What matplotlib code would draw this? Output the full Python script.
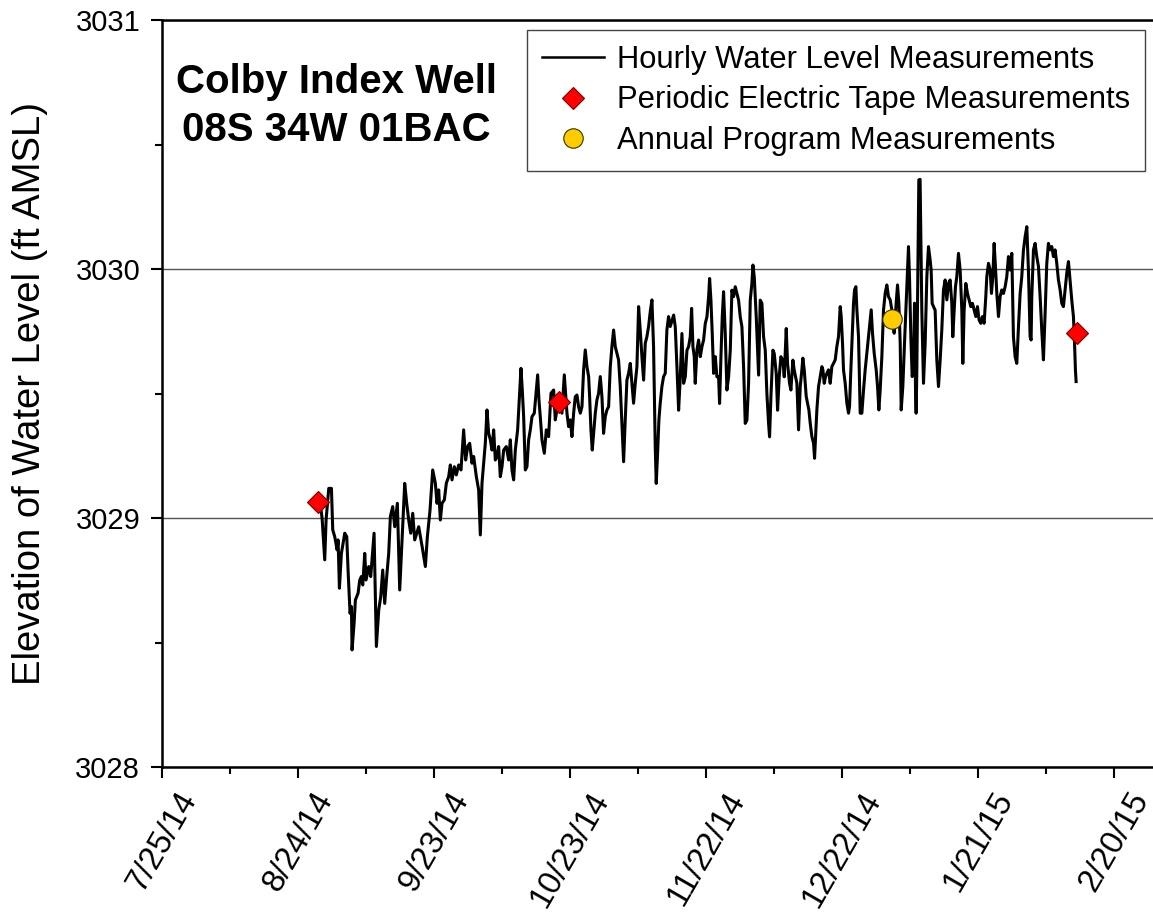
import matplotlib
matplotlib.use("Agg")
import matplotlib.pyplot as plt
import matplotlib.dates as mdates
from matplotlib.lines import Line2D
import numpy as np
import pandas as pd

plt.rcParams['font.family'] = ['Liberation Sans', 'DejaVu Sans']

# ---------------- data ----------------
base_date = "2014-07-25"
# hourly record, sampled: days after base_date and level (ft AMSL)
hourly_days = [
    34.86, 35.23, 35.81, 36.11, 36.70, 37.29, 37.58, 38.02, 38.54, 38.76, 39.05, 39.49, 40.23, 40.67,
    40.96, 41.40, 41.70, 41.84, 42.29, 42.58, 43.17, 43.54, 43.90, 44.20, 44.64, 44.93, 45.52, 45.96,
    46.70, 47.21, 47.73, 48.17, 48.61, 49.05, 49.49, 49.93, 50.30, 50.81, 51.26, 51.84, 52.36, 52.87,
    53.46, 53.90, 54.34, 54.79, 55.23, 55.67, 56.55, 57.43, 58.02, 58.46, 59.05, 59.64,
    60.22, 60.59, 60.96, 61.33, 61.69, 62.21, 62.65, 63.16, 63.53, 63.90, 64.41, 64.85, 65.37, 65.88,
    66.47, 66.91, 67.36, 67.80, 68.31, 68.68, 69.27, 69.78, 70.15, 70.52, 70.88, 71.25, 71.62, 71.99,
    72.36, 72.72, 73.09, 73.46, 73.83, 74.19, 74.56, 74.93, 75.30, 75.88, 76.40, 76.77, 77.13, 77.50,
    77.87, 78.38, 78.83, 79.12, 79.41, 79.71, 80.08, 80.44, 80.81, 81.18, 81.55, 82.06, 82.50, 82.80,
    83.09, 83.38, 83.75, 84.27, 84.71, 85.22, 85.74, 86.33,
    86.69, 87.06, 87.65, 88.16, 88.68, 89.27, 89.63, 90.00, 90.37, 90.74, 91.10, 91.47, 91.84, 92.21,
    92.58, 92.94, 93.31, 93.68, 94.05, 94.27, 94.56, 94.85, 95.15, 95.52, 95.88, 96.25, 96.62, 96.99,
    97.35, 97.72, 98.09, 98.46, 98.83, 99.19, 99.56, 99.93, 100.30, 100.66, 101.03, 101.40, 101.77,
    102.13, 102.50, 102.87, 103.24, 103.60, 103.97, 104.34, 104.71, 105.08, 105.44, 105.81, 106.18,
    106.55, 106.91, 107.28, 107.65, 108.02, 108.38, 108.75, 108.97, 109.27, 109.56, 109.85, 110.22,
    110.59, 110.96, 111.32, 111.69, 112.06,
    112.81, 113.17, 113.54, 113.91, 114.28, 114.64, 115.01, 115.38, 115.75, 116.11, 116.48, 116.78,
    117.07, 117.36, 117.58, 117.95, 118.32, 118.69, 119.06, 119.42, 119.79, 120.16, 120.53, 120.75,
    121.04, 121.33, 121.63, 122.00, 122.36, 122.73, 122.95, 123.25, 123.54, 123.83, 124.20, 124.57,
    124.94, 125.31, 125.67, 126.04, 126.41, 126.78, 127.14, 127.51, 127.88, 128.25, 128.61, 128.98,
    129.35, 129.72, 130.08, 130.31, 130.60, 131.04, 131.56, 131.92, 132.29, 132.66, 133.03, 133.39,
    133.76, 133.98, 134.28, 134.72, 135.01, 135.45, 135.75, 136.11, 136.48, 136.92, 137.22, 137.66,
    137.95, 138.39, 138.69, 139.13, 139.42,
    140.01, 140.38, 140.75, 141.11, 141.33, 141.63, 142.07, 142.36, 142.66, 142.95, 143.32, 143.69,
    143.91, 144.13, 144.42, 144.79, 145.16, 145.53, 145.75, 146.04, 146.33, 146.63, 146.99, 147.36,
    147.73, 148.10, 148.47, 148.83, 149.20, 149.57, 149.79, 150.08, 150.30, 150.67, 151.04, 151.41,
    151.63, 151.92, 152.22, 152.51, 152.73, 153.03, 153.25, 153.61, 153.98, 154.35, 154.72, 155.08,
    155.45, 155.82, 156.19, 156.41, 156.70, 157.07, 157.51, 157.81, 158.10, 158.39, 158.76, 159.13,
    159.50, 159.86, 160.23, 160.60, 160.97, 161.19, 161.48, 161.70, 161.92, 162.22, 162.51, 162.81,
    163.03, 163.39, 163.76, 164.13, 164.42, 164.64, 164.86, 165.16, 165.45, 165.75, 165.97, 166.19,
    166.33, 166.48, 166.70, 166.92, 167.20,
    167.58, 167.95, 168.32, 168.69, 169.05, 169.42, 169.64, 169.86, 170.16, 170.52, 170.89, 171.26,
    171.63, 171.99, 172.36, 172.73, 173.10, 173.47, 173.83, 174.20, 174.42, 174.72, 175.01, 175.30,
    175.67, 176.04, 176.41, 176.63, 176.92, 177.29, 177.66, 178.02, 178.39, 178.76, 179.13, 179.50,
    179.86, 180.23, 180.60, 180.97, 181.33, 181.70, 181.92, 182.29, 182.66, 182.95, 183.25, 183.54,
    183.83, 184.13, 184.50, 184.86, 185.23, 185.60, 185.97, 186.33, 186.70, 187.07, 187.44, 187.80,
    188.17, 188.54, 188.91, 189.28, 189.64, 190.01, 190.38, 190.75, 191.11, 191.48, 191.70,
    191.85, 192.22, 192.58, 192.95, 193.32, 193.69, 194.05, 194.42, 194.79, 195.16, 195.52, 195.89,
    196.26, 196.63, 196.99, 197.36, 197.73, 198.10, 198.47, 198.83, 199.20, 199.57, 199.94, 200.30,
    200.67, 201.04, 201.26, 201.48, 201.63,
]
hourly_level = [
    3029.052, 3028.999, 3028.832, 3028.992, 3029.119, 3029.119, 3028.952, 3028.925, 3028.872, 3028.912,
    3028.718, 3028.858, 3028.939, 3028.925, 3028.791, 3028.617, 3028.644, 3028.470, 3028.577, 3028.671,
    3028.698, 3028.751, 3028.765, 3028.731, 3028.858, 3028.751, 3028.805, 3028.765, 3028.939, 3028.484,
    3028.631, 3028.684, 3028.791, 3028.657, 3028.765, 3028.858, 3029.006, 3029.046, 3028.965, 3029.059,
    3028.711, 3028.912, 3029.139, 3029.059, 3028.992, 3028.939, 3029.019, 3028.912, 3028.965, 3028.872,
    3028.805, 3028.925, 3029.032, 3029.193,
    3029.140, 3029.059, 3029.113, 3028.992, 3029.059, 3029.073, 3029.140, 3029.166, 3029.213, 3029.153,
    3029.206, 3029.173, 3029.213, 3029.193, 3029.354, 3029.233, 3029.287, 3029.300, 3029.220, 3029.247,
    3029.166, 3029.113, 3028.932, 3029.140, 3029.220, 3029.300, 3029.434, 3029.340, 3029.314, 3029.273,
    3029.354, 3029.233, 3029.247, 3029.287, 3029.166, 3029.206, 3029.273, 3029.287, 3029.233, 3029.314,
    3029.193, 3029.153, 3029.273, 3029.354, 3029.501, 3029.601, 3029.514, 3029.407, 3029.193, 3029.206,
    3029.314, 3029.354, 3029.407, 3029.421, 3029.514, 3029.575, 3029.474, 3029.407, 3029.314, 3029.260,
    3029.354, 3029.327, 3029.501, 3029.514,
    3029.394, 3029.434, 3029.474, 3029.421, 3029.575, 3029.421, 3029.367, 3029.394, 3029.327, 3029.421,
    3029.487, 3029.494, 3029.447, 3029.421, 3029.447, 3029.595, 3029.675, 3029.608, 3029.568, 3029.487,
    3029.354, 3029.273, 3029.340, 3029.421, 3029.474, 3029.501, 3029.568, 3029.487, 3029.340, 3029.407,
    3029.434, 3029.447, 3029.608, 3029.688, 3029.755, 3029.688, 3029.662, 3029.635, 3029.528, 3029.380,
    3029.226, 3029.394, 3029.554, 3029.581, 3029.621, 3029.541, 3029.461, 3029.541, 3029.608, 3029.849,
    3029.755, 3029.648, 3029.554, 3029.702, 3029.728, 3029.769, 3029.829, 3029.876, 3029.688, 3029.287,
    3029.139, 3029.260, 3029.394, 3029.461, 3029.528, 3029.568, 3029.581, 3029.755, 3029.809, 3029.769,
    3029.815, 3029.768, 3029.607, 3029.433, 3029.567, 3029.741, 3029.541, 3029.567, 3029.674, 3029.688,
    3029.728, 3029.842, 3029.688, 3029.648, 3029.541, 3029.674, 3029.715, 3029.648, 3029.688, 3029.715,
    3029.781, 3029.808, 3029.889, 3029.962, 3029.875, 3029.741, 3029.581, 3029.648, 3029.567, 3029.567,
    3029.460, 3029.648, 3029.808, 3029.909, 3029.741, 3029.514, 3029.567, 3029.674, 3029.915, 3029.889,
    3029.929, 3029.902, 3029.875, 3029.808, 3029.768, 3029.607, 3029.380, 3029.393, 3029.541, 3029.875,
    3029.942, 3030.016, 3029.969, 3029.808, 3029.574, 3029.875, 3029.862, 3029.728, 3029.674, 3029.500,
    3029.380, 3029.326, 3029.487, 3029.674, 3029.661, 3029.581, 3029.433, 3029.567, 3029.648, 3029.634,
    3029.567, 3029.761, 3029.621, 3029.541, 3029.514, 3029.634, 3029.594,
    3029.541, 3029.354, 3029.528, 3029.595, 3029.642, 3029.595, 3029.488, 3029.461, 3029.434, 3029.381,
    3029.327, 3029.300, 3029.240, 3029.327, 3029.434, 3029.528, 3029.568, 3029.608, 3029.595, 3029.541,
    3029.568, 3029.581, 3029.595, 3029.541, 3029.608, 3029.622, 3029.635, 3029.689, 3029.729, 3029.849,
    3029.809, 3029.702, 3029.595, 3029.541, 3029.461, 3029.421, 3029.448, 3029.595, 3029.729, 3029.863,
    3029.916, 3029.929, 3029.836, 3029.729, 3029.421, 3029.421, 3029.514, 3029.595, 3029.662, 3029.729,
    3029.796, 3029.836, 3029.742, 3029.662, 3029.595, 3029.528, 3029.434, 3029.514, 3029.648, 3029.836,
    3029.903, 3029.936, 3029.889, 3029.876, 3029.836, 3029.782, 3029.742, 3029.796, 3029.863, 3029.936,
    3029.863, 3029.702, 3029.434, 3029.528, 3029.702, 3029.863, 3029.996, 3030.090, 3029.970, 3029.729,
    3029.568, 3029.595, 3029.863, 3029.514, 3029.421, 3029.595, 3029.996, 3030.358, 3030.360,
    3029.835, 3029.541, 3029.702, 3029.969, 3030.090, 3030.036, 3029.996, 3029.862, 3029.849, 3029.835,
    3029.635, 3029.528, 3029.635, 3029.755, 3029.916, 3029.956, 3029.876, 3029.942, 3029.956, 3029.862,
    3029.728, 3029.835, 3029.929, 3029.969, 3030.063, 3029.996, 3029.835, 3029.621, 3029.835, 3029.942,
    3029.902, 3029.876, 3029.849, 3029.862, 3029.835, 3029.809, 3029.849, 3029.795, 3029.782, 3029.809,
    3029.782, 3029.889, 3029.969, 3030.023, 3029.996, 3029.902, 3029.969, 3030.103, 3030.009, 3029.902,
    3029.809, 3029.889, 3029.916, 3029.902, 3029.929, 3029.969, 3030.050, 3029.996, 3030.063, 3029.728,
    3029.648, 3029.621, 3029.768, 3029.902, 3029.969, 3030.076, 3030.130, 3030.170, 3029.996, 3029.728,
    3029.715,
    3029.889, 3030.077, 3030.103, 3030.050, 3030.010, 3029.889, 3029.755, 3029.635, 3029.822, 3030.023,
    3030.103, 3030.077, 3030.090, 3030.050, 3030.077, 3030.023, 3029.956, 3029.916, 3029.862, 3029.849,
    3029.916, 3029.983, 3030.030, 3029.956, 3029.876, 3029.809, 3029.715, 3029.595, 3029.548,
]

tape_dates = ["2014-08-28 08:00", "2014-10-20 10:00", "2015-02-11 19:00"]
tape_level = [3029.065, 3029.467, 3029.742]

annual_dates = ["2015-01-02 02:00"]
annual_level = [3029.799]

x_tick_dates = ["2014-07-25", "2014-08-24", "2014-09-23", "2014-10-23",
                "2014-11-22", "2014-12-22", "2015-01-21", "2015-02-20"]
x_tick_labels = ["7/25/14", "8/24/14", "9/23/14", "10/23/14",
                 "11/22/14", "12/22/14", "1/21/15", "2/20/15"]
y_ticks = [3028, 3029, 3030, 3031]

title_text = "Colby Index Well\n08S 34W 01BAC"
y_label = "Elevation of Water Level (ft AMSL)"
legend_labels = ["Hourly Water Level Measurements",
                 "Periodic Electric Tape Measurements",
                 "Annual Program Measurements"]

# ---------------- figure ----------------
fig = plt.figure(figsize=(11.53, 9.19), dpi=100)
ax = fig.add_axes([0.1409, 0.1654, 0.8591, 0.8128])

t0 = pd.Timestamp(base_date)
hourly_time = t0 + pd.to_timedelta(hourly_days, unit="D")

ax.plot(hourly_time, hourly_level, color="black", lw=2.2, zorder=3,
        solid_joinstyle="round")
ax.plot(pd.to_datetime(tape_dates), tape_level, ls="none", marker="D", ms=11,
        mfc="#ff0000", mec="#7a0000", mew=0.8, zorder=5)
ax.plot(pd.to_datetime(annual_dates), annual_level, ls="none", marker="o", ms=14,
        mfc="#ffcc00", mec="#333300", mew=0.8, zorder=5)

# ticks
major_x = pd.to_datetime(x_tick_dates)
ax.set_xticks(mdates.date2num(major_x))
ax.set_xticklabels(x_tick_labels, rotation=60, ha="center", va="top", fontsize=23.5)
minor_x = mdates.date2num(major_x[:-1]) + 15
ax.set_xticks(list(minor_x), minor=True)

ax.set_yticks(y_ticks)
ax.set_yticklabels([str(v) for v in y_ticks], fontsize=21)
ax.set_yticks([3028.5, 3029.5, 3030.5], minor=True)

# axes limits (after ticks so they are not expanded)
ax.set_ylim(3028, 3031)
ax.set_xlim(t0, t0 + pd.Timedelta(days=218.6))

ax.tick_params(axis="both", which="major", direction="out", length=8, width=1.5, pad=8)
ax.tick_params(axis="both", which="minor", direction="out", length=5, width=1.5)
ax.tick_params(axis="x", which="major", pad=6)
ax.tick_params(top=False, right=False, which="both")

for side in ["left", "bottom", "top"]:
    ax.spines[side].set_linewidth(1.8)
ax.spines["right"].set_visible(False)

ax.yaxis.grid(True, which="major", color="#555555", lw=1.0)
ax.set_axisbelow(True)

ax.set_ylabel(y_label, fontsize=27.5)
ax.yaxis.set_label_coords(-0.134, 0.5)
ax.yaxis.label.set_va("center")

ax.text(0.176, 0.885, title_text, transform=ax.transAxes, ha="center", va="center",
        fontsize=29, fontweight="bold", linespacing=1.32)

handles = [
    Line2D([], [], color="black", lw=1.8),
    Line2D([], [], ls="none", marker="D", ms=11, mfc="#ff0000", mec="#7a0000", mew=0.8),
    Line2D([], [], ls="none", marker="o", ms=14, mfc="#ffcc00", mec="#333300", mew=0.8),
]
leg = ax.legend(handles, legend_labels, loc="upper right", bbox_to_anchor=(0.992, 0.9866),
                fontsize=22.3, frameon=True, fancybox=False, framealpha=1,
                edgecolor="#444444", handlelength=2.0, handletextpad=0.42,
                labelspacing=0.34, borderpad=0.48, borderaxespad=0.0)
leg.get_frame().set_linewidth(1.0)

fig.savefig("out.png", dpi=100)
